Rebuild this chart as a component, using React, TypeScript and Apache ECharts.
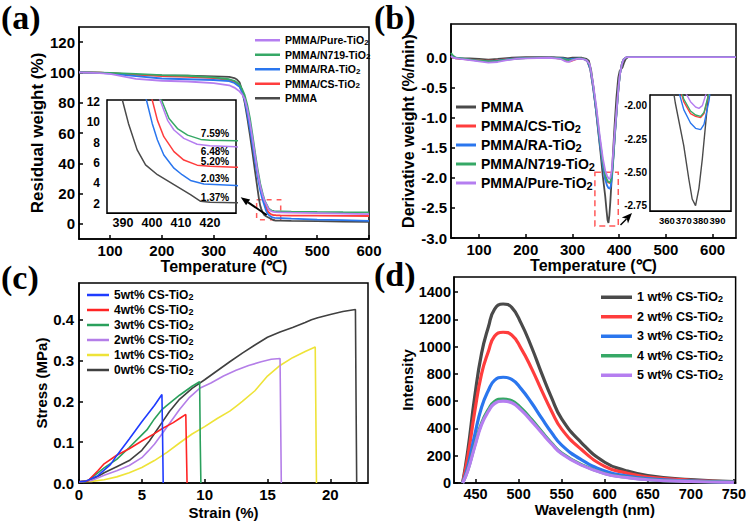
import { useEffect, useRef } from "react";
import * as echarts from "echarts";

const SANS = "'Liberation Sans', Arial, sans-serif";
const SERIF = "'Liberation Serif', 'Times New Roman', serif";

// ---------- (a) TGA: residual weight (%) vs temperature (°C)
const tgaPmma = [[40,100],[80,99.8],[100,99.5],[130,98.9],[150,98.5],[200,98],[250,97.8],[300,97.4],[330,97],[340,96.3],[345,95.3],[350,93.5],[355,88],[360,80],[365,70],[370,59],[375,47],[380,34.5],[385,22.5],[387.5,16.5],[389.8,12.2],[391.9,9.9],[394.9,7.3],[397.8,5.83],[401.9,4.86],[407.6,3.88],[413.3,2.9],[416.8,2.25],[420,2.15],[429,2.1],[450,1.95],[500,1.75],[550,1.55],[600,1.37]];
const tgaCs = [[40,100],[80,99.8],[100,99.6],[150,98.5],[200,97.5],[250,97],[300,96.3],[330,95],[340,93.8],[350,91],[355,87.5],[360,82.5],[365,74.5],[370,65],[375,55],[380,44],[385,33.5],[390,24.5],[395,17.5],[400.1,12.2],[401.9,10.2],[404.1,8.6],[407.6,7.13],[411,6.3],[415.6,5.8],[420,5.7],[429,5.6],[450,5.5],[500,5.4],[550,5.3],[600,5.2]];
const tgaRa = [[40,100],[80,99.7],[100,99.3],[150,97.5],[200,96],[250,95.5],[300,95],[330,94.3],[340,93],[350,90.5],[355,87],[360,81.5],[365,73],[370,63],[375,52.5],[380,41.5],[385,31],[390,22],[394,16.5],[398.1,12.2],[400.1,9.9],[401.9,8.27],[404.1,6.8],[407.6,5.5],[410.4,4.86],[413.3,4.3],[417.9,3.95],[429,3.8],[450,3.4],[500,2.8],[550,2.4],[600,2.03]];
const tgaN719 = [[40,100],[80,99.9],[100,99.7],[150,99],[200,98.2],[250,97.8],[300,96.8],[330,95.5],[340,94.5],[350,92],[355,89],[360,85],[365,78.5],[370,70],[375,59],[380,47],[385,36],[390,26.5],[395,19.5],[399,15],[403.3,12.2],[405.9,10.38],[408.8,9.4],[412.3,8.75],[416.8,8.33],[420,8.25],[429,8.2],[450,8.05],[500,7.85],[550,7.7],[600,7.59]];
const tgaPure = [[40,100],[80,99.5],[100,99],[130,97],[150,95.8],[200,94.5],[250,94],[300,93],[330,91.5],[340,90],[350,87.5],[355,85.5],[360,82.5],[365,76],[370,67],[375,56.5],[380,45],[385,34],[390,25],[395,18.5],[399,14.5],[402.8,12.2],[405.4,10.2],[407.6,9.25],[411,8.43],[415.6,7.85],[420,7.7],[429,7.6],[450,7.4],[500,7.1],[550,6.8],[600,6.48]];
const residueLabels = ["7.59%", "6.48%", "5.20%", "2.03%", "1.37%"];
const tempTicks = [100, 200, 300, 400, 500, 600];
const weightTicks = [0, 20, 40, 60, 80, 100, 120];
const zoomTempTicks = [390, 400, 410, 420];
const zoomWeightTicks = [2, 4, 6, 8, 10, 12];

// ---------- (b) DTG: derivative weight (%/min) vs temperature (°C)
const dtgPmma = [[40,0],[50,-0.02],[80,-0.02],[100,-0.03],[120,-0.04],[140,-0.03],[170,-0.01],[200,0],[250,0],[280,-0.01],[290,-0.02],[300,-0.01],[320,-0.01],[330,-0.03],[335,-0.06],[340,-0.22],[345,-0.5],[350,-0.86],[355,-1.22],[360,-1.58],[365,-1.98],[370,-2.3],[373,-2.55],[375,-2.7],[377,-2.75],[379,-2.62],[381,-2.4],[384,-2.0],[387,-1.55],[390,-1.15],[394,-0.68],[398,-0.34],[401,-0.23],[404,-0.2],[407,-0.17],[410,-0.1],[414,-0.03],[419,0],[450,0],[500,0],[550,0],[600,0],[650,0]];
const dtgCs = [[40,0.01],[45,-0.01],[60,-0.03],[80,-0.04],[100,-0.05],[115,-0.06],[130,-0.06],[150,-0.04],[180,-0.02],[220,-0.01],[260,-0.01],[278,-0.03],[288,-0.07],[295,-0.07],[305,-0.04],[315,-0.02],[325,-0.03],[332,-0.07],[338,-0.2],[344,-0.5],[351,-0.9],[358,-1.36],[365,-1.76],[370,-1.97],[374,-2.06],[377,-2.08],[380,-2.09],[382,-2.06],[385,-1.91],[388,-1.6],[391,-1.25],[395,-0.84],[399,-0.46],[402,-0.26],[406,-0.1],[410,-0.03],[416,0],[450,0],[500,0],[550,0],[600,0],[650,0]];
const dtgRa = [[40,0.02],[45,0],[60,-0.02],[80,-0.04],[100,-0.06],[120,-0.07],[135,-0.06],[155,-0.04],[180,-0.02],[220,-0.01],[260,-0.01],[280,-0.02],[290,-0.04],[300,-0.03],[315,-0.02],[325,-0.03],[332,-0.07],[338,-0.2],[344,-0.5],[351,-0.92],[358,-1.4],[365,-1.8],[370,-2.03],[374,-2.13],[377,-2.17],[380,-2.18],[382,-2.14],[385,-1.96],[388,-1.64],[391,-1.28],[395,-0.86],[399,-0.47],[402,-0.27],[406,-0.1],[410,-0.03],[416,0],[450,0],[500,0],[550,0],[600,0],[650,0]];
const dtgN719 = [[40,0.07],[44,0.03],[50,-0.01],[70,-0.03],[90,-0.05],[110,-0.06],[125,-0.07],[140,-0.06],[160,-0.04],[190,-0.02],[220,-0.01],[260,-0.01],[280,-0.03],[290,-0.05],[300,-0.04],[315,-0.02],[325,-0.03],[332,-0.06],[338,-0.17],[344,-0.46],[351,-0.86],[358,-1.33],[365,-1.74],[370,-1.95],[374,-2.04],[377,-2.07],[380,-2.08],[382,-2.05],[385,-1.9],[388,-1.6],[391,-1.25],[395,-0.85],[399,-0.47],[402,-0.27],[406,-0.1],[410,-0.03],[416,0],[450,0],[500,0],[550,0],[600,0],[650,0]];
const dtgPure = [[40,0.02],[45,-0.01],[60,-0.03],[80,-0.05],[100,-0.07],[120,-0.09],[140,-0.08],[160,-0.05],[180,-0.03],[200,-0.02],[250,-0.01],[275,-0.03],[285,-0.07],[292,-0.08],[300,-0.05],[310,-0.03],[320,-0.03],[330,-0.05],[337,-0.12],[344,-0.43],[351,-0.82],[358,-1.28],[365,-1.68],[370,-1.88],[374,-1.97],[377,-2.01],[379,-2.02],[381,-2.0],[384,-1.88],[387,-1.6],[390,-1.3],[394,-0.93],[398,-0.55],[401,-0.32],[405,-0.14],[409,-0.04],[415,0],[450,0],[500,0],[550,0],[600,0],[650,0]];
const dtgTempTicks = [100, 200, 300, 400, 500, 600];
const dtgTicks = [-3, -2.5, -2, -1.5, -1, -0.5, 0];
const zoomDtgTempTicks = [360, 370, 380, 390];
const zoomDtgTicks = [-2.75, -2.5, -2.25, -2.0];

// ---------- (c) stress (MPa) vs strain (%)
const ss5 = [[0,0.003],[0.5,0.004],[1.5,0.018],[2.5,0.045],[3,0.067],[4,0.108],[5,0.15],[6,0.19],[6.6,0.217],[6.65,0.12],[6.7,0]];
const ss4 = [[0,0.003],[0.7,0.005],[1.5,0.03],[2,0.047],[3,0.068],[4,0.084],[5,0.103],[6,0.121],[6.6,0.133],[7.5,0.148],[8,0.158],[8.5,0.168],[8.55,0.08],[8.6,0]];
const ss3 = [[0,0.003],[0.7,0.005],[1.5,0.025],[2,0.037],[3,0.058],[4,0.087],[5,0.118],[5.4,0.13],[6,0.157],[6.6,0.18],[7,0.19],[8,0.215],[9,0.237],[9.6,0.248],[9.65,0.1],[9.7,0]];
const ss2 = [[0,0.003],[1,0.006],[2,0.019],[3,0.03],[4,0.043],[5,0.062],[5.5,0.078],[6,0.095],[6.6,0.12],[7.3,0.15],[8,0.18],[8.8,0.21],[9.6,0.232],[10.5,0.245],[11.5,0.262],[12.5,0.276],[13.5,0.288],[14.5,0.297],[15.3,0.303],[16,0.305],[16.05,0.15],[16.1,0]];
const ss1 = [[0,0.003],[1,0.004],[2,0.008],[3,0.015],[4,0.025],[5,0.038],[6,0.055],[7,0.075],[8,0.098],[9,0.12],[10,0.138],[11,0.158],[12,0.176],[12.5,0.188],[13,0.2],[14,0.226],[15,0.262],[16,0.288],[17,0.307],[18,0.322],[18.8,0.333],[18.85,0.17],[18.9,0]];
const ss0 = [[0,0.003],[1,0.007],[2,0.025],[3,0.04],[4,0.055],[5,0.08],[5.6,0.103],[6.2,0.13],[6.6,0.148],[7.2,0.175],[8,0.205],[9,0.232],[10,0.253],[11,0.275],[12,0.297],[13,0.318],[14,0.338],[15,0.357],[16,0.37],[17,0.381],[18,0.393],[18.5,0.4],[19,0.405],[20,0.413],[21,0.42],[22,0.425],[22.05,0.2],[22.1,0]];
const strainTicks = [0, 5, 10, 15, 20];
const stressTicks = [0, 0.1, 0.2, 0.3, 0.4];

// ---------- (d) PL intensity vs wavelength (nm)
const pl1 = [[435,0],[441,236],[449,630],[457,950],[465,1145],[472,1273],[482,1312],[492,1287],[503,1170],[515,997],[527,800],[538,630],[550,470],[573,295],[600,152],[623,94],[650,54],[700,25],[750,10]];
const pl2 = [[435,0],[441,190],[449,520],[457,800],[465,965],[472,1075],[482,1105],[492,1085],[503,985],[515,840],[527,675],[538,530],[550,395],[573,245],[600,122],[623,76],[650,44],[700,20],[750,9]];
const pl3 = [[435,0],[441,120],[449,350],[457,555],[465,680],[472,752],[482,775],[492,760],[503,690],[515,588],[527,473],[538,372],[550,278],[573,170],[600,88],[623,55],[650,32],[700,15],[750,7]];
const pl4 = [[435,0],[441,95],[449,275],[457,440],[465,540],[472,597],[482,615],[492,603],[503,548],[515,466],[527,375],[538,295],[550,220],[573,135],[600,70],[623,44],[650,25],[700,12],[750,6]];
const pl5 = [[435,0],[441,90],[449,265],[457,428],[465,526],[472,582],[482,600],[492,588],[503,534],[515,454],[527,366],[538,288],[550,214],[573,131],[600,68],[623,42],[650,24],[700,11],[750,5]];
const wlTicks = [450, 500, 550, 600, 650, 700, 750];
const plTicks = [0, 200, 400, 600, 800, 1000, 1200, 1400];

const COL = { gray: "#4a4a4a", red: "#ff3d3d", blue: "#2a76ee", green: "#36a866", purple: "#b57ef0" };
const COLC = { s5: "#1f3cff", s4: "#ff2424", s3: "#2aa05c", s2: "#b47ee8", s1: "#eee338", s0: "#404040" };

type AxisOpts = {
  grid: number; min: number; max: number; ticks: number[]; fontSize: number; margin: number;
  digits?: number; name?: string; nameGap?: number; nameSize?: number; width?: number; tickLen?: number;
};

function valueAxis(o: AxisOpts) {
  const w = o.width ?? 1.5;
  return {
    type: "value", gridIndex: o.grid, min: o.min, max: o.max,
    axisLine: { show: true, onZero: false, lineStyle: { color: "#000", width: w } },
    axisTick: { show: true, inside: true, length: o.tickLen ?? 4, customValues: o.ticks, lineStyle: { color: "#000", width: w } },
    axisLabel: {
      show: true, customValues: o.ticks, margin: o.margin, color: "#000",
      hideOverlap: false, showMinLabel: true, showMaxLabel: true,
      fontFamily: SANS, fontWeight: "bold", fontSize: o.fontSize,
      formatter: (v: number) => (o.digits != null ? v.toFixed(o.digits) : String(v)),
    },
    splitLine: { show: false },
    name: o.name, nameLocation: "middle", nameGap: o.nameGap,
    nameTextStyle: { color: "#000", fontFamily: SANS, fontWeight: "bold", fontSize: o.nameSize ?? 15 },
  };
}

function line(name: string, data: number[][], color: string, xi: number, width: number, extra: object = {}) {
  return {
    type: "line", name, data, xAxisIndex: xi, yAxisIndex: xi, color,
    showSymbol: false, symbol: "none", clip: true, smooth: false,
    lineStyle: { color, width }, ...extra,
  };
}

function legend(names: string[], left: number, top: number, gap: number, iw: number, ih: number, fs: number, subPad: number) {
  return {
    data: names, orient: "vertical", left, top, itemGap: gap, itemWidth: iw, itemHeight: ih,
    icon: "rect", selectedMode: false, padding: 0,
    formatter: (n: string) => n.replace(/TiO2$/, "TiO{s|2}"),
    textStyle: {
      fontFamily: SANS, fontWeight: "bold", fontSize: fs, color: "#000", lineHeight: fs + 2,
      rich: { s: { fontFamily: SANS, fontWeight: "bold", fontSize: Math.round(fs * 0.75), color: "#000", lineHeight: fs - 1, padding: [subPad, 0, 0, 0] } },
    },
  };
}

const pctStyle = { fontFamily: SANS, fontWeight: "bold", fontSize: 10, fill: "#000" };
const pctY = [133.5, 151, 161.5, 178.5, 197.5];

const option = {
  animation: false,
  backgroundColor: "#fff",
  title: [
    { text: "(a)", left: 1, top: 0 },
    { text: "(b)", left: 374, top: 0 },
    { text: "(c)", left: 1, top: 260 },
    { text: "(d)", left: 374, top: 257 },
  ].map((t) => ({ ...t, padding: 0, textStyle: { fontFamily: SERIF, fontWeight: "bold", fontSize: 34, color: "#000", lineHeight: 34 } })),
  grid: [
    { left: 79, top: 27, width: 290, height: 212 },
    { left: 107, top: 100, width: 129, height: 113, z: 5 },
    { left: 451, top: 24, width: 285, height: 214 },
    { left: 650, top: 95, width: 81, height: 116, z: 5 },
    { left: 79, top: 283, width: 289, height: 200 },
    { left: 454, top: 277, width: 282, height: 206 },
  ].map((g) => ({ ...g, show: true, borderColor: "#000", borderWidth: 1.5, backgroundColor: "#fff", containLabel: false })),
  xAxis: [
    valueAxis({ grid: 0, min: 40, max: 600, ticks: tempTicks, fontSize: 15, margin: 4, name: "Temperature (\u2103)", nameGap: 16, nameSize: 16 }),
    valueAxis({ grid: 1, min: 384.5, max: 429, ticks: zoomTempTicks, fontSize: 12.5, margin: 3, width: 1.2, tickLen: 3 }),
    valueAxis({ grid: 2, min: 40, max: 650, ticks: dtgTempTicks, fontSize: 15, margin: 4, name: "Temperature (\u2103)", nameGap: 18, nameSize: 16 }),
    valueAxis({ grid: 3, min: 350, max: 398, ticks: zoomDtgTempTicks, fontSize: 9.5, margin: 4, width: 1.2, tickLen: 3 }),
    valueAxis({ grid: 4, min: 0, max: 23, ticks: strainTicks, fontSize: 15, margin: 4, name: "Strain (%)", nameGap: 22 }),
    valueAxis({ grid: 5, min: 425, max: 752, ticks: wlTicks, fontSize: 14.5, margin: 3, name: "Wavelength (nm)", nameGap: 19 }),
  ],
  yAxis: [
    valueAxis({ grid: 0, min: -10, max: 130, ticks: weightTicks, fontSize: 15, margin: 4, name: "Residual weight (%)", nameGap: 31, nameSize: 17 }),
    valueAxis({ grid: 1, min: 1.1, max: 12.2, ticks: zoomWeightTicks, fontSize: 12, margin: 7, width: 1.2, tickLen: 3 }),
    valueAxis({ grid: 2, min: -3, max: 0.55, ticks: dtgTicks, fontSize: 15, margin: 4, digits: 1, name: "Derivative weight (%/min)", nameGap: 35, nameSize: 16 }),
    valueAxis({ grid: 3, min: -2.79, max: -1.92, ticks: zoomDtgTicks, fontSize: 10, margin: 3, digits: 2, width: 1.2, tickLen: 3 }),
    valueAxis({ grid: 4, min: 0, max: 0.49, ticks: stressTicks, fontSize: 15, margin: 5, digits: 1, name: "Stress (MPa)", nameGap: 29 }),
    valueAxis({ grid: 5, min: 0, max: 1510, ticks: plTicks, fontSize: 14.5, margin: 3, name: "Intensity", nameGap: 38 }),
  ],
  legend: [
    legend(["PMMA/Pure-TiO2", "PMMA/N719-TiO2", "PMMA/RA-TiO2", "PMMA/CS-TiO2", "PMMA"], 255, 34, 2, 25, 2.5, 10.5, 4),
    legend(["PMMA", "PMMA/CS-TiO2", "PMMA/RA-TiO2", "PMMA/N719-TiO2", "PMMA/Pure-TiO2"], 456, 99, 3, 20, 3, 14, 5),
    legend(["5wt% CS-TiO2", "4wt% CS-TiO2", "3wt% CS-TiO2", "2wt% CS-TiO2", "1wt% CS-TiO2", "0wt% CS-TiO2"], 87, 288, 1, 22, 2.5, 12, 4),
    legend(["1 wt% CS-TiO2", "2 wt% CS-TiO2", "3 wt% CS-TiO2", "4 wt% CS-TiO2", "5 wt% CS-TiO2"], 601, 290, 5, 31, 3.5, 12.5, 4),
  ],
  series: [
    // (a) main
    line("PMMA", tgaPmma, COL.gray, 0, 1.8, {
      markArea: {
        silent: true,
        itemStyle: { color: "rgba(0,0,0,0)", borderColor: "#ff5a5a", borderWidth: 1.5, borderType: [5, 5] },
        data: [[{ coord: [383, 16] }, { coord: [429.5, 2.7] }]],
      },
    }),
    line("PMMA/CS-TiO2", tgaCs, COL.red, 0, 1.8),
    line("PMMA/RA-TiO2", tgaRa, COL.blue, 0, 1.8),
    line("PMMA/N719-TiO2", tgaN719, COL.green, 0, 1.8),
    line("PMMA/Pure-TiO2", tgaPure, COL.purple, 0, 1.8),
    // (a) zoomed residue
    line("PMMA", tgaPmma, COL.gray, 1, 1.5, { z: 6 }),
    line("PMMA/CS-TiO2", tgaCs, COL.red, 1, 1.5, { z: 6 }),
    line("PMMA/RA-TiO2", tgaRa, COL.blue, 1, 1.5, { z: 6 }),
    line("PMMA/N719-TiO2", tgaN719, COL.green, 1, 1.5, { z: 6 }),
    line("PMMA/Pure-TiO2", tgaPure, COL.purple, 1, 1.5, { z: 6 }),
    // (b) main
    line("PMMA", dtgPmma, COL.gray, 2, 1.8, {
      markArea: {
        silent: true,
        itemStyle: { color: "rgba(0,0,0,0)", borderColor: "#ff5a5a", borderWidth: 1.5, borderType: [6, 4] },
        data: [[{ coord: [348, -1.91] }, { coord: [398, -2.8] }]],
      },
    }),
    line("PMMA/CS-TiO2", dtgCs, COL.red, 2, 1.8),
    line("PMMA/RA-TiO2", dtgRa, COL.blue, 2, 1.8),
    line("PMMA/N719-TiO2", dtgN719, COL.green, 2, 1.8),
    line("PMMA/Pure-TiO2", dtgPure, COL.purple, 2, 1.8),
    // (b) zoomed peak
    line("PMMA", dtgPmma, COL.gray, 3, 1.4, { z: 6 }),
    line("PMMA/CS-TiO2", dtgCs, COL.red, 3, 1.4, { z: 6 }),
    line("PMMA/RA-TiO2", dtgRa, COL.blue, 3, 1.4, { z: 6 }),
    line("PMMA/N719-TiO2", dtgN719, COL.green, 3, 1.4, { z: 6 }),
    line("PMMA/Pure-TiO2", dtgPure, COL.purple, 3, 1.4, { z: 6 }),
    // (c)
    line("0wt% CS-TiO2", ss0, COLC.s0, 4, 1.6),
    line("1wt% CS-TiO2", ss1, COLC.s1, 4, 1.6),
    line("2wt% CS-TiO2", ss2, COLC.s2, 4, 1.6),
    line("3wt% CS-TiO2", ss3, COLC.s3, 4, 1.6),
    line("4wt% CS-TiO2", ss4, COLC.s4, 4, 1.6),
    line("5wt% CS-TiO2", ss5, COLC.s5, 4, 1.6),
    // (d)
    line("1 wt% CS-TiO2", pl1, COL.gray, 5, 3.2, { smooth: true }),
    line("2 wt% CS-TiO2", pl2, COL.red, 5, 3.2, { smooth: true }),
    line("3 wt% CS-TiO2", pl3, COL.blue, 5, 3.2, { smooth: true }),
    line("4 wt% CS-TiO2", pl4, COL.green, 5, 3.2, { smooth: true }),
    line("5 wt% CS-TiO2", pl5, COL.purple, 5, 3.2, { smooth: true }),
  ],
  graphic: [
    // pointer from the dashed box to the residue inset
    { type: "line", shape: { x1: 266.7, y1: 215, x2: 248.1, y2: 202.4 }, style: { stroke: "#000", lineWidth: 2 }, z: 10 },
    { type: "polygon", shape: { points: [[240.7, 197.3], [250.1, 199.5], [246.1, 205.3]] }, style: { fill: "#000" }, z: 10 },
    // pointer from the dashed box to the peak inset
    { type: "polygon", shape: { points: [[632, 213], [628, 223.5], [626.8, 218.8], [621.8, 217.6]] }, style: { fill: "#000" }, z: 10 },
    { type: "line", shape: { x1: 620.5, y1: 225, x2: 626.5, y2: 219 }, style: { stroke: "#000", lineWidth: 1.5 }, z: 10 },
    ...residueLabels.map((t, i) => ({
      type: "text", x: 215, y: pctY[i], z: 10,
      style: { ...pctStyle, text: t, textAlign: "center", textVerticalAlign: "middle" },
    })),
  ],
};

export default function App() {
  const ref = useRef<HTMLDivElement>(null);
  useEffect(() => {
    const chart = echarts.init(ref.current!, undefined, { renderer: "svg" });
    chart.setOption(option as any);
    return () => chart.dispose();
  }, []);
  return (
    <div
      ref={ref}
      style={{ position: "fixed", left: 0, top: 0, width: 749, height: 524, background: "#fff" }}
    />
  );
}
